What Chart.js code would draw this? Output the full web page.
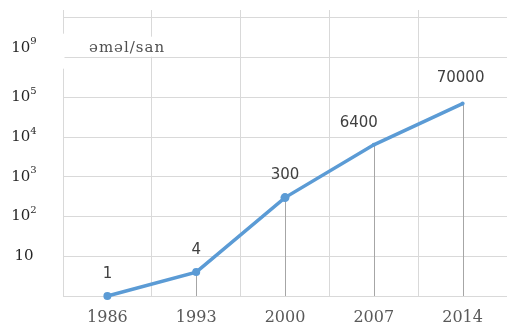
<!DOCTYPE html>
<html>
<head>
<meta charset="utf-8">
<script src="https://cdn.jsdelivr.net/npm/chart.js@4/dist/chart.umd.min.js"></script>
<style>
  html, body { margin: 0; padding: 0; background: #fff; overflow: hidden; }
  canvas { display: block; }
</style>
</head>
<body>
<canvas id="c" width="507" height="325"></canvas>
<script>
// Computing speed by year (operations per second)
const years = ['1986', '1993', '2000', '2007', '2014'];
const opsPerSecond = [1, 4, 300, 6400, 70000];
const valueLabels = ['1', '4', '300', '6400', '70000'];
// Powers of ten labelled on the vertical axis
const labelledExponents = [1, 2, 3, 4, 5];
const gridExponents = [0, 1, 2, 3, 4, 5, 6, 7];
const unitText = 'əməl/san';
const topExponentText = '9';

const GRID = '#d9d9d9';
const LINE = '#5B9BD5';
const SERIF = '"DejaVu Serif", "Liberation Serif", serif';
const SANS = '"DejaVu Sans", "Liberation Sans", sans-serif';

// label nudges relative to each point
const labelShift = [[0, -22], [0, -22], [0, -22], [-15, -22], [-2, -25]];

function drawPower(ctx, cx, cy, exp) {
  ctx.save();
  ctx.fillStyle = '#262626';
  ctx.textBaseline = 'middle';
  ctx.font = '15px ' + SERIF;
  const baseW = ctx.measureText('10').width;
  ctx.font = '10px ' + SERIF;
  const expW = exp ? ctx.measureText(exp).width : 0;
  const total = baseW + expW;
  let x = cx - total / 2;
  ctx.font = '15px ' + SERIF;
  ctx.textAlign = 'left';
  ctx.fillText('10', x, cy);
  if (exp) {
    ctx.font = '10px ' + SERIF;
    ctx.fillText(exp, x + baseW, cy - 6);
  }
  ctx.restore();
}

const annotate = {
  id: 'annotate',
  beforeDatasetsDraw(chart) {
    const ctx = chart.ctx;
    const meta = chart.getDatasetMeta(0);
    const bottom = chart.chartArea.bottom;
    ctx.save();
    ctx.strokeStyle = '#a6a6a6';
    ctx.lineWidth = 1;
    meta.data.forEach(pt => {
      const x = Math.round(pt.x) + 0.5;
      ctx.beginPath();
      ctx.moveTo(x, pt.y);
      ctx.lineTo(x, bottom);
      ctx.stroke();
    });
    ctx.restore();
  },
  afterDatasetsDraw(chart) {
    const ctx = chart.ctx;
    const meta = chart.getDatasetMeta(0);
    ctx.save();
    ctx.font = '15px ' + SANS;
    ctx.fillStyle = '#404040';
    ctx.textAlign = 'center';
    ctx.textBaseline = 'middle';
    meta.data.forEach((pt, i) => {
      ctx.fillText(valueLabels[i], pt.x + labelShift[i][0], pt.y + labelShift[i][1]);
    });
    ctx.restore();
  },
  afterDraw(chart) {
    const ctx = chart.ctx;
    const y = chart.scales.y;
    const left = chart.chartArea.left;
    labelledExponents.forEach(e => {
      drawPower(ctx, 24, y.getPixelForValue(Math.pow(10, e)), e === 1 ? '' : String(e));
    });
    // unit caption and the topmost power label
    const capY = y.getPixelForValue(1e6) - 10;
    ctx.save();
    ctx.fillStyle = '#fff';
    ctx.fillRect(0, capY - 14, left + 1.5, 35);
    ctx.fillRect(left + 2, capY - 11, 100, 20);
    ctx.fillStyle = '#505050';
    ctx.font = '15px ' + SERIF;
    ctx.letterSpacing = '1px';
    ctx.textAlign = 'left';
    ctx.textBaseline = 'middle';
    ctx.fillText(unitText, left + 26, capY);
    ctx.restore();
    drawPower(ctx, 24, capY, topExponentText);
  }
};

new Chart(document.getElementById('c'), {
  type: 'line',
  data: {
    labels: years,
    datasets: [{
      data: opsPerSecond,
      borderColor: LINE,
      backgroundColor: LINE,
      borderWidth: 3.5,
      pointRadius: [4, 4, 4.5, 2, 2],
      pointBackgroundColor: LINE,
      pointBorderWidth: 0,
      tension: 0,
      fill: false,
      clip: false
    }]
  },
  options: {
    responsive: false,
    maintainAspectRatio: false,
    animation: false,
    devicePixelRatio: 1,
    layout: { autoPadding: false, padding: { top: 10, right: 0, left: 0, bottom: 0 } },
    plugins: { legend: { display: false }, tooltip: { enabled: false } },
    scales: {
      x: {
        type: 'category',
        offset: true,
        grid: { offset: true, color: GRID, drawTicks: false },
        border: { color: GRID },
        ticks: { color: '#595959', font: { family: SERIF, size: 16 }, padding: 12 },
        afterFit(s) { s.height = 29; }
      },
      y: {
        type: 'logarithmic',
        min: 1,
        max: Math.pow(10, 7.2),
        grid: { color: GRID, drawTicks: false },
        border: { color: GRID },
        ticks: { display: false },
        afterBuildTicks(s) { s.ticks = gridExponents.map(e => ({ value: Math.pow(10, e) })); },
        afterFit(s) { s.width = 63; }
      }
    }
  },
  plugins: [annotate]
});
</script>
</body>
</html>
